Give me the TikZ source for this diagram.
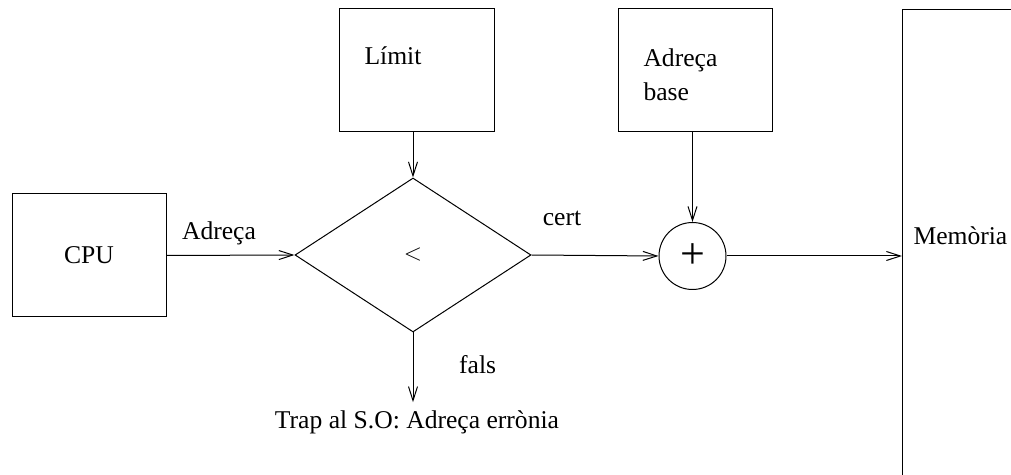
\documentclass[tikz,border=0pt]{standalone}
\usepackage{fontspec}
\setmainfont{Liberation Serif}
\usetikzlibrary{arrows.meta,shapes.geometric}

\tikzset{
  caixa/.style={draw, rectangle, inner sep=0pt},
  txt/.style={inner sep=0pt, anchor=base west},
  fletxa/.style={-{Straight Barb[length=7pt,width=4.5pt]}},
}

\begin{document}
\begin{tikzpicture}[x=0.5pt, y=-0.5pt, line width=0.5pt,
    every node/.style={font=\fontsize{12.8}{17}\selectfont}]
    \useasboundingbox (0,0) rectangle (1011,475);
    \clip (0,0) rectangle (1011,475);

    \node[caixa, minimum width=77pt, minimum height=61.5pt] (0) at (89,255.5) {CPU};
    \node[caixa, minimum width=77.5pt, minimum height=61.5pt] (1) at (416.5,70.5) {};
    \node[draw, diamond, inner sep=0pt, minimum width=118pt, minimum height=77pt] (2) at (413,255) {$<$};
    \node[draw, circle, inner sep=0pt, minimum size=33.5pt, font=\fontsize{22}{22}\selectfont] (3) at (692.5,256) {+};
    \node[caixa, minimum width=77pt, minimum height=61.5pt] (4) at (695,70.5) {};
    \node[caixa, anchor=north west, minimum width=150pt, minimum height=300pt] (5) at (902,9) {};
    \node[anchor=base, inner xsep=0pt, inner ysep=3.75pt] (6) at (417,428) {Trap al S.O: Adreça errònia};

    \node[txt] (7) at (364,65) {Límit};
    \node[inner sep=0pt, anchor=north west, align=left] (8) at (643,48.5) {Adreça\\base};
    \node[txt] (9) at (913,245) {Memòria};

    \draw[fletxa] (0.east) -- node[pos=0.41, anchor=base, yshift=8pt] {Adreça} (2.west);
    \draw[fletxa] (2.east) -- node[pos=0.24, anchor=base, yshift=15pt] {cert} (3.west);
    \draw[fletxa] (3.east) -- (3.east -| 5.west);
    \draw[fletxa] (2.north |- 1.south) -- (2.north);
    \draw[fletxa] (3.north |- 4.south) -- (3.north);
    \draw[fletxa] (2.south) -- node[pos=0.59, anchor=base west, xshift=19.5pt] {fals} (2.south |- 6.north);
  \end{tikzpicture}
\end{document}
